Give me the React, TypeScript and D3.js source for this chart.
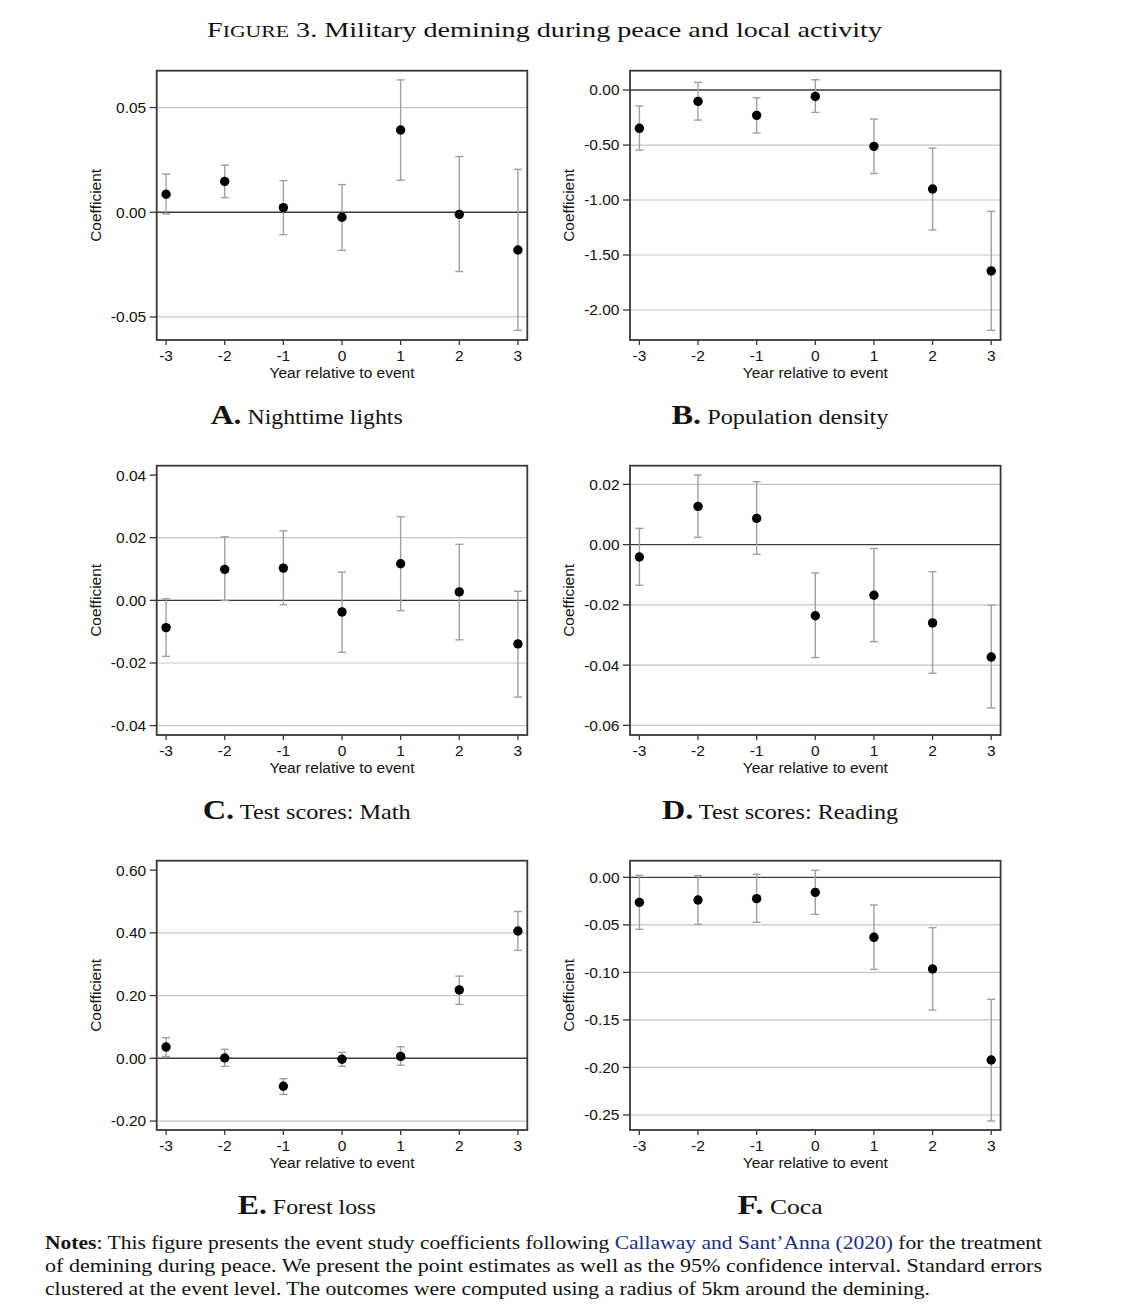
import React from "react";
import * as d3 from "d3";

// ---------- data ----------
const years = [-3, -2, -1, 0, 1, 2, 3];
const panelLetters = ["A", "B", "C", "D", "E", "F"];
const panelNames = [
  "Nighttime lights",
  "Population density",
  "Test scores: Math",
  "Test scores: Reading",
  "Forest loss",
  "Coca",
];

const estA = [0.0086, 0.0147, 0.0022, -0.0024, 0.0393, -0.001, -0.018];
const loA = [-0.0008, 0.007, -0.0107, -0.0182, 0.0153, -0.0283, -0.0564];
const hiA = [0.0182, 0.0225, 0.0151, 0.0132, 0.0632, 0.0266, 0.0205];
const domA = [-0.061, 0.0676];
const ticksA = [-0.05, 0, 0.05];

const estB = [-0.348, -0.103, -0.23, -0.058, -0.512, -0.9, -1.645];
const loB = [-0.545, -0.273, -0.391, -0.203, -0.758, -1.273, -2.185];
const hiB = [-0.145, 0.07, -0.07, 0.094, -0.264, -0.527, -1.103];
const domB = [-2.273, 0.176];
const ticksB = [-2, -1.5, -1, -0.5, 0];

const estC = [-0.0087, 0.0099, 0.0103, -0.0037, 0.0117, 0.0027, -0.0139];
const loC = [-0.0179, 0.0, -0.0014, -0.0166, -0.0033, -0.0126, -0.0309];
const hiC = [0.0005, 0.0203, 0.0222, 0.009, 0.0267, 0.0179, 0.0029];
const domC = [-0.043, 0.043];
const ticksC = [-0.04, -0.02, 0, 0.02, 0.04];

const estD = [-0.0041, 0.0127, 0.0087, -0.0236, -0.0168, -0.026, -0.0373];
const loD = [-0.0135, 0.0024, -0.0032, -0.0375, -0.0322, -0.0427, -0.0542];
const hiD = [0.0054, 0.0231, 0.0209, -0.0094, -0.0013, -0.009, -0.0201];
const domD = [-0.0632, 0.0262];
const ticksD = [-0.06, -0.04, -0.02, 0, 0.02];

const estE = [0.036, 0.001, -0.089, -0.003, 0.006, 0.218, 0.406];
const loE = [0.006, -0.0255, -0.115, -0.0255, -0.022, 0.172, 0.344];
const hiE = [0.066, 0.029, -0.065, 0.019, 0.037, 0.262, 0.468];
const domE = [-0.2285, 0.63];
const ticksE = [-0.2, 0, 0.2, 0.4, 0.6];

const estF = [-0.0263, -0.0238, -0.0224, -0.0158, -0.0631, -0.0964, -0.1922];
const loF = [-0.0547, -0.0494, -0.0473, -0.0389, -0.0968, -0.1396, -0.2563];
const hiF = [0.0021, 0.0018, 0.0032, 0.0074, -0.0291, -0.0529, -0.1283];
const domF = [-0.2658, 0.0175];
const ticksF = [-0.25, -0.2, -0.15, -0.1, -0.05, 0];

const xTickLabels = ["-3", "-2", "-1", "0", "1", "2", "3"];
const yAxisTitle = "Coefficient";
const xAxisTitle = "Year relative to event";

// ---------- layout ----------
const W = 1140;
const H = 1310;
const colLeft = [156.7, 630];
const rowTop = [70.7, 465.7, 860.7];
const plotW = 370.6;
const plotH = 269.3;
const titleWidths = [192, 217, 208, 236, 138, 85];

const SANS = "'Liberation Sans', Arial, Helvetica, sans-serif";
const SERIF = "'Liberation Serif', 'Times New Roman', serif";
const AX_FS = 15.5;

const panels = [
  { est: estA, lo: loA, hi: hiA, dom: domA, ticks: ticksA, topGrid: true },
  { est: estB, lo: loB, hi: hiB, dom: domB, ticks: ticksB, topGrid: true },
  { est: estC, lo: loC, hi: hiC, dom: domC, ticks: ticksC, topGrid: false },
  { est: estD, lo: loD, hi: hiD, dom: domD, ticks: ticksD, topGrid: true },
  { est: estE, lo: loE, hi: hiE, dom: domE, ticks: ticksE, topGrid: false },
  { est: estF, lo: loF, hi: hiF, dom: domF, ticks: ticksF, topGrid: true },
];

const fmt2 = d3.format(".2f");
const fmt = (v: number) => fmt2(v).replace("\u2212", "-");

function Panel({ idx }: { idx: number }) {
  const p = panels[idx];
  const left = colLeft[idx % 2];
  const top = rowTop[Math.floor(idx / 2)];
  const right = left + plotW;
  const bottom = top + plotH;
  const x = d3.scaleLinear().domain([-3.16, 3.16]).range([left, right]);
  const y = d3.scaleLinear().domain(p.dom).range([bottom, top]);
  const maxTick = d3.max(p.ticks) as number;
  const cap = 4;
  const cx = left + 150;

  return (
    <g>
      {p.ticks
        .filter((t) => t !== 0 && (p.topGrid || t !== maxTick))
        .map((t) => (
          <line
            key={"g" + t}
            x1={left}
            x2={right}
            y1={y(t)}
            y2={y(t)}
            stroke="#c4c4c4"
            strokeWidth={1.2}
          />
        ))}
      <line x1={left} x2={right} y1={y(0)} y2={y(0)} stroke="#3c3c3c" strokeWidth={1.4} />
      {years.map((yr, i) => (
        <g key={"e" + yr} stroke="#a0a0a0" strokeWidth={1.4} fill="none">
          <line x1={x(yr)} x2={x(yr)} y1={y(p.lo[i])} y2={y(p.hi[i])} />
          <line x1={x(yr) - cap} x2={x(yr) + cap} y1={y(p.lo[i])} y2={y(p.lo[i])} />
          <line x1={x(yr) - cap} x2={x(yr) + cap} y1={y(p.hi[i])} y2={y(p.hi[i])} />
        </g>
      ))}
      {years.map((yr, i) => (
        <circle key={"p" + yr} cx={x(yr)} cy={y(p.est[i])} r={4.7} fill="#000" />
      ))}
      <rect
        x={left}
        y={top}
        width={plotW}
        height={plotH}
        fill="none"
        stroke="#383838"
        strokeWidth={1.8}
      />
      {p.ticks.map((t) => (
        <g key={"yt" + t}>
          <line x1={left - 7} x2={left} y1={y(t)} y2={y(t)} stroke="#383838" strokeWidth={1.3} />
          <text
            x={left - 10.5}
            y={y(t)}
            dy="0.35em"
            textAnchor="end"
            fontFamily={SANS}
            fontSize={AX_FS}
            fill="#111"
          >
            {fmt(t)}
          </text>
        </g>
      ))}
      {years.map((yr, i) => (
        <g key={"xt" + yr}>
          <line x1={x(yr)} x2={x(yr)} y1={bottom} y2={bottom + 5} stroke="#383838" strokeWidth={1.3} />
          <text
            x={x(yr)}
            y={bottom + 20.5}
            textAnchor="middle"
            fontFamily={SANS}
            fontSize={AX_FS}
            fill="#111"
          >
            {xTickLabels[i]}
          </text>
        </g>
      ))}
      <text
        x={(left + right) / 2}
        y={bottom + 37.5}
        textAnchor="middle"
        fontFamily={SANS}
        fontSize={AX_FS}
        fill="#111"
      >
        {xAxisTitle}
      </text>
      <text
        transform={`translate(${left - 61},${(top + bottom) / 2}) rotate(-90)`}
        textAnchor="middle"
        dy="0.35em"
        fontFamily={SANS}
        fontSize={AX_FS}
        fill="#111"
      >
        {yAxisTitle}
      </text>
      <text
        x={cx}
        y={top + 353.5}
        textAnchor="middle"
        fontFamily={SERIF}
        fill="#111"
        textLength={titleWidths[idx]}
        lengthAdjust="spacingAndGlyphs"
      >
        <tspan fontWeight="bold" fontSize={28}>
          {panelLetters[idx] + "."}
        </tspan>
        <tspan fontSize={21}>{" " + panelNames[idx]}</tspan>
      </text>
    </g>
  );
}

export default function App() {
  return (
    <svg
      width={W}
      height={H}
      viewBox={`0 0 ${W} ${H}`}
      style={{ position: "absolute", left: 0, top: 0, background: "#fff" }}
    >
      <rect x={0} y={0} width={W} height={H} fill="#fff" />
      <text
        x={544.5}
        y={36.5}
        textAnchor="middle"
        fontFamily={SERIF}
        fontSize={22}
        fill="#111"
        textLength={675}
        lengthAdjust="spacingAndGlyphs"
      >
        <tspan>F</tspan>
        <tspan fontSize={17}>IGURE</tspan>
        <tspan>{" 3.  Military demining during peace and local activity"}</tspan>
      </text>
      {panels.map((_, i) => (
        <Panel key={i} idx={i} />
      ))}
      <g fontFamily={SERIF} fontSize={19} fill="#111">
        <text x={45} y={1249} textLength={997} lengthAdjust="spacingAndGlyphs">
          <tspan fontWeight="bold">Notes</tspan>
          <tspan>{": This figure presents the event study coefficients following "}</tspan>
          <tspan fill="#1d2f7e">{"Callaway and Sant\u2019Anna (2020)"}</tspan>
          <tspan>{" for the treatment"}</tspan>
        </text>
        <text x={45} y={1272} textLength={997} lengthAdjust="spacingAndGlyphs">
          {"of demining during peace.  We present the point estimates as well as the 95% confidence interval.  Standard errors"}
        </text>
        <text x={45} y={1295} textLength={885} lengthAdjust="spacingAndGlyphs">
          {"clustered at the event level. The outcomes were computed using a radius of 5km around the demining."}
        </text>
      </g>
    </svg>
  );
}
